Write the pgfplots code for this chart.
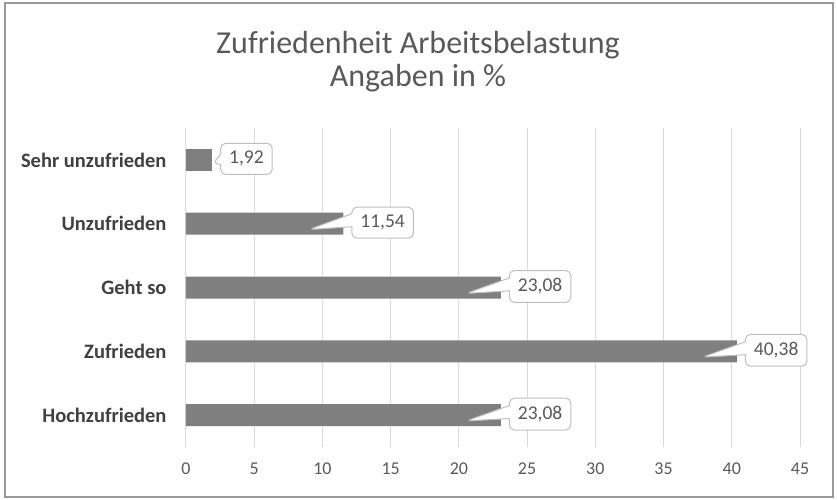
\documentclass[border=0pt]{standalone}
\usepackage{pgfplots}
\pgfplotsset{compat=1.18}
\usepackage{fontspec}
\setmainfont{Carlito}
\usetikzlibrary{shapes.callouts}
\definecolor{barc}{HTML}{7F7F7F}
\definecolor{gridc}{HTML}{D9D9D9}
\definecolor{txt}{HTML}{595959}
\definecolor{lab}{HTML}{404040}
\definecolor{boxc}{HTML}{BFBFBF}
\begin{document}
\begin{tikzpicture}[x=1pt,y=1pt]
\path[use as bounding box] (-186,-53) rectangle (651,447);
\draw[color=boxc!80!black, line width=1.2pt] (-181,-50) rectangle (647,444);
\begin{axis}[
  at={(0,0)}, anchor=south west,
  scale only axis, width=614pt, height=319pt,
  xmin=0, xmax=45, ymin=-0.5, ymax=4.5,
  xtick={0,5,...,45},
  ytick={0,1,2,3,4},
  yticklabels={Hochzufrieden,Zufrieden,Geht so,Unzufrieden,Sehr unzufrieden},
  yticklabel style={font=\fontsize{20.5}{22}\selectfont\bfseries, text=lab, xshift=-16pt},
  xticklabel style={font=\fontsize{18}{20}\selectfont, text=txt, yshift=-12pt},
  /pgf/number format/assume math mode=true,
  major tick length=0pt,
  axis line style={draw=none},
  xmajorgrids, grid style={gridc, line width=1pt},
  xbar, bar width=22pt, bar shift=0pt,
  clip=false,
  nodes near coords={\pgfmathprintnumber[fixed,fixed zerofill,precision=2,use comma]{\pgfplotspointmeta}},
  point meta=explicit,
  every node near coord/.append style={font=\fontsize{19.5}{21}\selectfont, text=txt, anchor=west,
    rectangle callout, fill=white, draw=boxc, line width=1pt, rounded corners=5pt,
    inner xsep=8.5pt, inner ysep=8pt, xshift=8pt, yshift=1pt},
]
\addplot[fill=barc, draw=none,
  every node near coord/.append style={callout relative pointer={(-43pt,-4pt)}, callout pointer width=13pt}]
  coordinates {(23.08,0) [23.08] (40.38,1) [40.38] (23.08,2) [23.08] (11.54,3) [11.54]};
\addplot[fill=barc, draw=none,
  every node near coord/.append style={callout relative pointer={(-8pt,-1pt)}, callout pointer width=10pt}]
  coordinates {(1.92,4) [1.92]};
\end{axis}
\node[text=txt, font=\fontsize{32}{33}\selectfont, align=center] at (232,385) {Zufriedenheit Arbeitsbelastung\\Angaben in \%};
\end{tikzpicture}
\end{document}
